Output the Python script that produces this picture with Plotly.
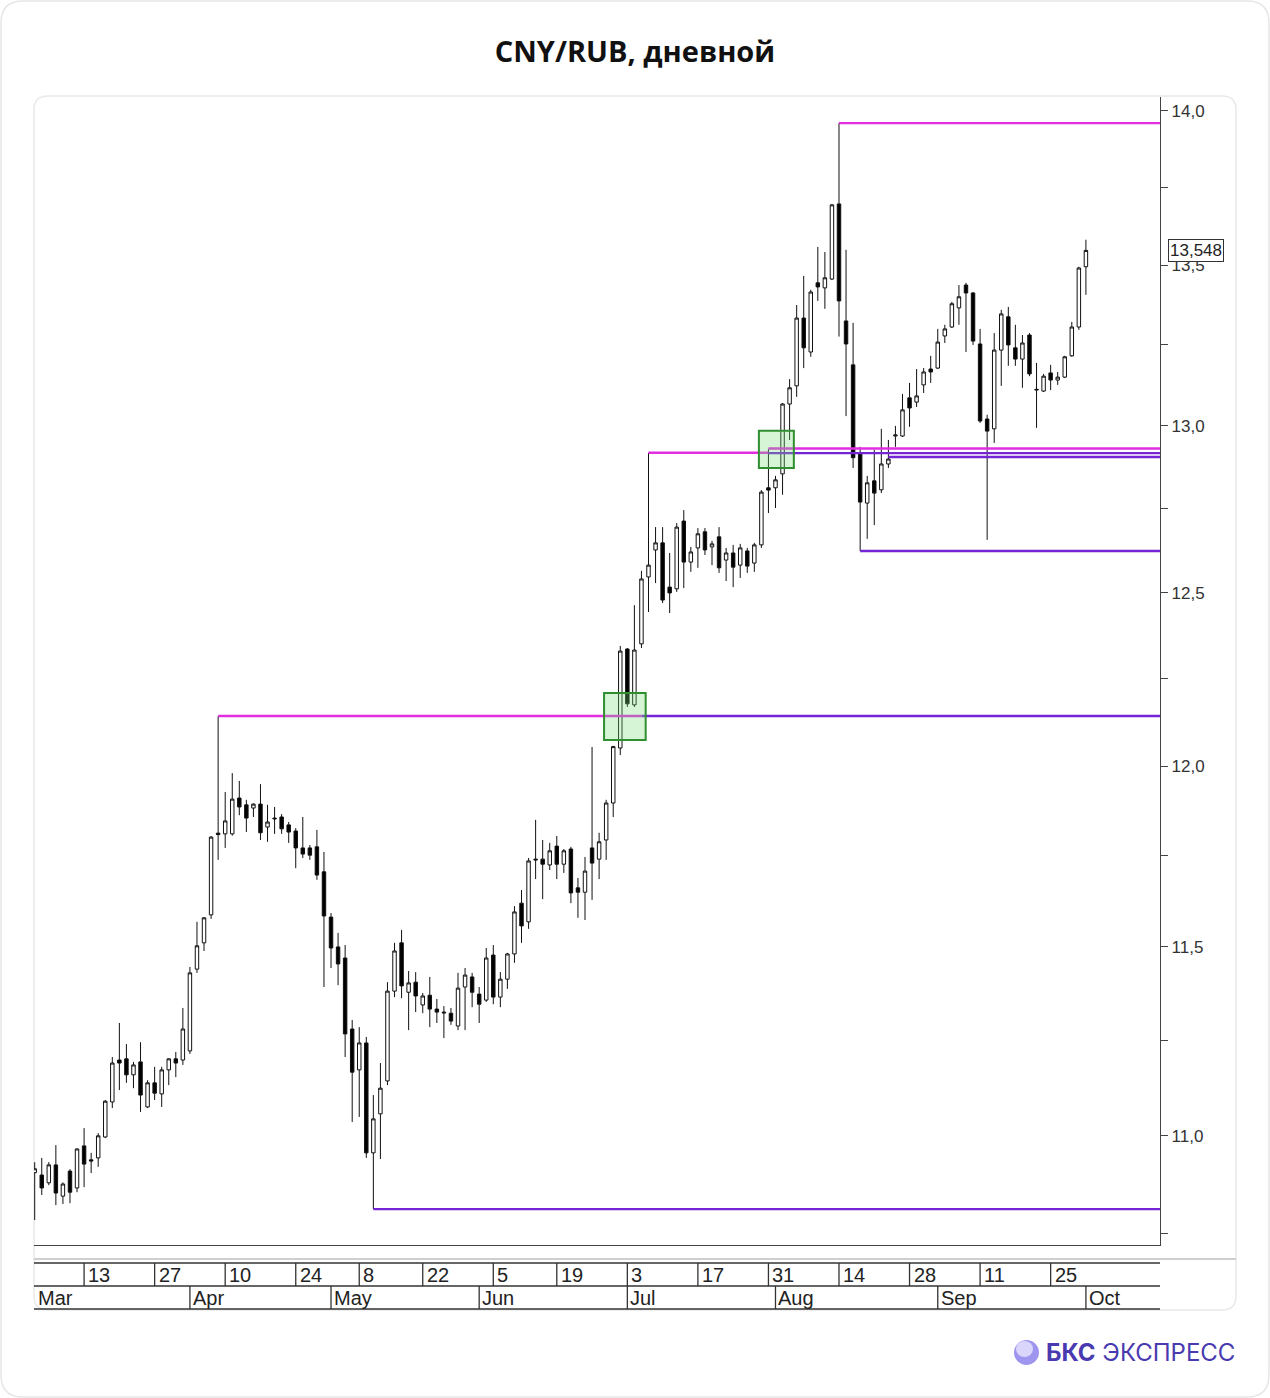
import math
import pandas as pd
import plotly.graph_objects as go

# ---------------- data ----------------
holidays = ["2023-03-08", "2023-05-01", "2023-05-09", "2023-06-12"]
dates = [d.strftime("%Y-%m-%d") for d in pd.bdate_range("2023-03-01", "2023-10-02")
         if d.strftime("%Y-%m-%d") not in holidays]

opens = [10.905, 10.899, 10.879, 10.925, 10.845, 10.909, 10.866, 10.974, 10.938, 10.943,
         10.997, 11.088, 11.198, 11.201, 11.159, 11.193, 11.075, 11.138, 11.109, 11.172,
         11.201, 11.198, 11.222, 11.440, 11.511, 11.587, 11.812, 11.810, 11.810, 11.910,
         11.891, 11.882, 11.893, 11.829, 11.854, 11.857, 11.835, 11.818, 11.771, 11.771,
         11.774, 11.705, 11.581, 11.500, 11.470, 11.280, 11.172, 11.243, 10.956, 11.057,
         11.143, 11.381, 11.511, 11.378, 11.405, 11.344, 11.370, 11.333, 11.325, 11.322,
         11.288, 11.392, 11.419, 11.373, 11.357, 11.478, 11.365, 11.413, 11.481, 11.619,
         11.568, 11.740, 11.740, 11.724, 11.776, 11.726, 11.768, 11.661, 11.649, 11.771,
         11.740, 11.793, 11.896, 12.051, 12.335, 12.174, 12.350, 12.546, 12.626, 12.647,
         12.516, 12.511, 12.712, 12.590, 12.632, 12.680, 12.635, 12.665, 12.596, 12.617,
         12.581, 12.623, 12.587, 12.641, 12.812, 12.812, 12.854, 13.067, 13.123, 13.334,
         13.228, 13.445, 13.429, 13.457, 13.697, 13.325, 13.188, 12.918, 12.766, 12.833,
         12.806, 12.884, 12.969, 12.969, 13.086, 13.073, 13.126, 13.175, 13.178, 13.278,
         13.306, 13.366, 13.438, 13.413, 13.253, 13.021, 12.991, 13.234, 13.338, 13.241,
         13.206, 13.281, 13.110, 13.107, 13.163, 13.141, 13.150, 13.216, 13.306, 13.496]
highs = [10.932, 10.943, 10.932, 10.976, 10.880, 10.914, 10.968, 11.020, 10.956, 11.007,
         11.093, 11.206, 11.296, 11.240, 11.193, 11.245, 11.145, 11.180, 11.180, 11.203,
         11.219, 11.336, 11.446, 11.568, 11.581, 11.804, 12.142, 11.927, 11.980, 11.958,
         11.905, 11.895, 11.949, 11.891, 11.885, 11.865, 11.843, 11.826, 11.857, 11.779,
         11.821, 11.760, 11.592, 11.538, 11.505, 11.304, 11.285, 11.259, 11.106, 11.190,
         11.405, 11.511, 11.546, 11.435, 11.432, 11.376, 11.419, 11.360, 11.341, 11.336,
         11.430, 11.443, 11.430, 11.392, 11.497, 11.505, 11.432, 11.484, 11.611, 11.655,
         11.743, 11.849, 11.793, 11.785, 11.804, 11.768, 11.774, 11.688, 11.746, 12.054,
         11.813, 11.905, 12.057, 12.344, 12.338, 12.463, 12.564, 12.918, 12.694, 12.694,
         12.617, 12.706, 12.745, 12.635, 12.691, 12.691, 12.653, 12.694, 12.632, 12.641,
         12.644, 12.632, 12.647, 12.805, 12.930, 12.848, 13.070, 13.144, 13.375, 13.467,
         13.423, 13.559, 13.543, 13.697, 13.960, 13.550, 13.319, 12.936, 12.848, 12.927,
         12.991, 12.957, 13.000, 13.098, 13.132, 13.175, 13.178, 13.216, 13.300, 13.313,
         13.385, 13.438, 13.445, 13.416, 13.300, 13.034, 13.287, 13.360, 13.369, 13.313,
         13.281, 13.287, 13.194, 13.160, 13.188, 13.166, 13.216, 13.322, 13.496, 13.582]
lows = [10.784, 10.848, 10.873, 10.822, 10.825, 10.827, 10.855, 10.868, 10.904, 10.920,
        10.994, 11.072, 11.119, 11.138, 11.124, 11.062, 11.072, 11.093, 11.075, 11.132,
        11.153, 11.185, 11.214, 11.430, 11.489, 11.576, 11.738, 11.771, 11.805, 11.862,
        11.815, 11.857, 11.793, 11.788, 11.810, 11.810, 11.785, 11.715, 11.743, 11.738,
        11.683, 11.392, 11.443, 11.397, 11.206, 11.036, 11.049, 10.943, 10.812, 10.940,
        11.132, 11.365, 11.362, 11.277, 11.325, 11.322, 11.285, 11.296, 11.256, 11.291,
        11.277, 11.277, 11.338, 11.296, 11.352, 11.346, 11.338, 11.387, 11.457, 11.511,
        11.549, 11.685, 11.630, 11.710, 11.685, 11.702, 11.619, 11.579, 11.573, 11.628,
        11.685, 11.738, 11.857, 12.031, 12.168, 12.168, 12.338, 12.443, 12.528, 12.469,
        12.440, 12.502, 12.513, 12.561, 12.573, 12.611, 12.581, 12.558, 12.534, 12.516,
        12.543, 12.558, 12.561, 12.632, 12.736, 12.751, 12.791, 12.957, 13.089, 13.178,
        13.213, 13.388, 13.363, 13.454, 13.276, 13.030, 12.872, 12.623, 12.659, 12.700,
        12.796, 12.872, 12.936, 12.966, 12.997, 13.058, 13.101, 13.132, 13.175, 13.256,
        13.303, 13.313, 13.228, 13.250, 13.009, 12.656, 12.948, 13.123, 13.185, 13.185,
        13.117, 13.153, 12.994, 13.104, 13.110, 13.126, 13.147, 13.213, 13.297, 13.407]
closes = [10.915, 10.866, 10.925, 10.853, 10.876, 10.855, 10.966, 10.927, 10.935, 11.000,
          11.090, 11.190, 11.190, 11.159, 11.185, 11.106, 11.138, 11.111, 11.172, 11.201,
          11.190, 11.280, 11.430, 11.503, 11.579, 11.801, 11.808, 11.846, 11.907, 11.885,
          11.854, 11.893, 11.813, 11.843, 11.852, 11.824, 11.815, 11.771, 11.754, 11.751,
          11.696, 11.584, 11.497, 11.454, 11.267, 11.166, 11.243, 10.956, 11.044, 11.124,
          11.381, 11.489, 11.395, 11.403, 11.368, 11.368, 11.333, 11.325, 11.323, 11.301,
          11.389, 11.424, 11.378, 11.346, 11.470, 11.365, 11.413, 11.481, 11.595, 11.557,
          11.735, 11.738, 11.726, 11.763, 11.726, 11.763, 11.647, 11.649, 11.707, 11.729,
          11.788, 11.896, 12.055, 12.329, 12.177, 12.332, 12.540, 12.581, 12.647, 12.478,
          12.499, 12.694, 12.590, 12.620, 12.674, 12.626, 12.644, 12.573, 12.617, 12.575,
          12.632, 12.578, 12.641, 12.799, 12.805, 12.836, 13.067, 13.117, 13.334, 13.241,
          13.416, 13.432, 13.461, 13.694, 13.388, 13.253, 12.903, 12.769, 12.827, 12.796,
          12.884, 12.899, 12.972, 13.049, 13.055, 13.092, 13.166, 13.166, 13.259, 13.300,
          13.379, 13.401, 13.413, 13.262, 13.015, 12.984, 13.234, 13.347, 13.250, 13.206,
          13.256, 13.160, 13.112, 13.153, 13.141, 13.150, 13.213, 13.306, 13.492, 13.548]

last_price = 13.548
last_label = "13,548"

# horizontal levels
levels_start = ["2023-08-14", "2023-07-06", "2023-07-31", "2023-07-31", "2023-08-23",
                "2023-04-07", "2023-07-05", "2023-08-17", "2023-05-11"]
levels_price = [13.960, 12.918, 12.931, 12.917, 12.905, 12.142, 12.142, 12.623, 10.812]
levels_end = ["2023-10-16 12:00", "2023-07-31", "2023-10-16 12:00", "2023-10-16 12:00",
              "2023-10-16 12:00", "2023-07-05", "2023-10-16 12:00", "2023-10-16 12:00",
              "2023-10-16 12:00"]
levels_kind = ["res", "res", "res", "sup", "sup", "res", "sup", "sup", "sup"]

# breakout zones (green boxes)
zone_x0 = ["2023-06-27 16:48", "2023-07-27 15:30"]
zone_x1 = ["2023-07-05 14:24", "2023-08-03 14:24"]
zone_y0 = [12.074, 12.872]
zone_y1 = [12.208, 12.985]

y_range = [10.721, 14.046]
y_tickvals = [11.0, 11.5, 12.0, 12.5, 13.0, 13.5, 14.0]
y_ticktext = ["11,0", "11,5", "12,0", "12,5", "13,0", "13,5", "14,0"]
y_minor = [10.75, 11.25, 11.75, 12.25, 12.75, 13.25, 13.75]

day_ticks = ["2023-03-13", "2023-03-27", "2023-04-10", "2023-04-24", "2023-05-08",
             "2023-05-22", "2023-06-05", "2023-06-19", "2023-07-03", "2023-07-17",
             "2023-07-31", "2023-08-14", "2023-08-28", "2023-09-11", "2023-09-25"]
day_labels = ["13", "27", "10", "24", "8", "22", "5", "19", "3", "17", "31", "14", "28", "11", "25"]
month_ticks = ["2023-03-01", "2023-04-03", "2023-05-02", "2023-06-01", "2023-07-03",
               "2023-08-01", "2023-09-01", "2023-10-02"]
month_labels = ["Mar", "Apr", "May", "Jun", "Jul", "Aug", "Sep", "Oct"]

x_range = ["2023-02-28 21:36", "2023-10-16 12:00"]

# ---------------- layout helpers ----------------
W, H = 1270, 1398
L, R, T, B = 34, 1160, 97, 1245


def X(px):
    return (px - L) / (R - L)


def Y(py):
    return (B - py) / (B - T)


def rrect(x0, y0, x1, y1, r):
    pts = [
        f"M {X(x0 + r)},{Y(y0)}", f"L {X(x1 - r)},{Y(y0)}",
        f"Q {X(x1)},{Y(y0)} {X(x1)},{Y(y0 + r)}", f"L {X(x1)},{Y(y1 - r)}",
        f"Q {X(x1)},{Y(y1)} {X(x1 - r)},{Y(y1)}", f"L {X(x0 + r)},{Y(y1)}",
        f"Q {X(x0)},{Y(y1)} {X(x0)},{Y(y1 - r)}", f"L {X(x0)},{Y(y0 + r)}",
        f"Q {X(x0)},{Y(y0)} {X(x0 + r)},{Y(y0)}", "Z"]
    return " ".join(pts)


MAGENTA = "#e02ee0"
PURPLE = "#7426d6"
AXIS = "#333333"
FONT_NARROW = "Liberation Sans Narrow, Arial Narrow, Liberation Sans, Arial, sans-serif"
FONT_SANS = "Liberation Sans, Arial, sans-serif"

fig = go.Figure()

fig.add_trace(go.Candlestick(
    x=dates, open=opens, high=highs, low=lows, close=closes,
    increasing=dict(line=dict(color="#111111", width=1), fillcolor="#ffffff"),
    decreasing=dict(line=dict(color="#111111", width=1), fillcolor="#000000"),
    whiskerwidth=0, showlegend=False, hoverinfo="skip"))

for s, e, p, k in zip(levels_start, levels_end, levels_price, levels_kind):
    fig.add_trace(go.Scatter(
        x=[s, e], y=[p, p], mode="lines",
        line=dict(color=MAGENTA if k == "res" else PURPLE, width=2.4),
        showlegend=False, hoverinfo="skip"))

shapes = []
shapes.append(dict(type="path", xref="paper", yref="paper", path=rrect(1, 1, W - 1, H - 1, 22),
                   line=dict(color="#e6e6e6", width=1.5), fillcolor="#ffffff", layer="below"))
shapes.append(dict(type="path", xref="paper", yref="paper", path=rrect(34, 96, 1236, 1310, 14),
                   line=dict(color="#e9e9e9", width=1.5), fillcolor="#ffffff", layer="below"))
shapes.append(dict(type="line", xref="paper", yref="paper", x0=X(34), x1=X(1236), y0=Y(1259), y1=Y(1259),
                   line=dict(color="#cfcfcf", width=2)))

for x0, x1, y0, y1 in zip(zone_x0, zone_x1, zone_y0, zone_y1):
    shapes.append(dict(type="rect", xref="x", yref="y", x0=x0, x1=x1, y0=y0, y1=y1,
                       line=dict(color="#2f8f2f", width=2), fillcolor="rgba(120,220,120,0.30)",
                       layer="above"))

ROW1_TOP, ROW_MID, ROW2_BOT = 1263, 1286, 1309
for py in (ROW1_TOP, ROW_MID, ROW2_BOT):
    shapes.append(dict(type="line", xref="paper", yref="paper", x0=0, x1=1, y0=Y(py), y1=Y(py),
                       line=dict(color=AXIS, width=1.3)))
for d in day_ticks:
    shapes.append(dict(type="line", xref="x", yref="paper", x0=d, x1=d, y0=Y(ROW1_TOP), y1=Y(ROW_MID),
                       line=dict(color=AXIS, width=1.3)))
for d in month_ticks[1:]:
    shapes.append(dict(type="line", xref="x", yref="paper", x0=d, x1=d, y0=Y(ROW_MID), y1=Y(ROW2_BOT),
                       line=dict(color=AXIS, width=1.3)))

shapes.append(dict(type="circle", xref="paper", yref="paper", x0=X(1014), x1=X(1039), y0=Y(1340), y1=Y(1365),
                   fillcolor="#9e96ee", line=dict(width=0)))
shapes.append(dict(type="circle", xref="paper", yref="paper", x0=X(1016), x1=X(1033), y0=Y(1341), y1=Y(1357),
                   fillcolor="#d9d5fb", line=dict(width=0)))

annotations = []
for d, t in zip(day_ticks, day_labels):
    annotations.append(dict(x=d, xref="x", y=Y((ROW1_TOP + ROW_MID) / 2), yref="paper", text=t,
                            showarrow=False, xanchor="left", yanchor="middle", xshift=2,
                            font=dict(family=FONT_NARROW, size=20, color="#222")))
for d, t in zip(month_ticks, month_labels):
    annotations.append(dict(x=d, xref="x", y=Y((ROW_MID + ROW2_BOT) / 2), yref="paper", text=t,
                            showarrow=False, xanchor="left", yanchor="middle", xshift=1,
                            font=dict(family=FONT_NARROW, size=20, color="#222")))
annotations.append(dict(x=X(1168), xref="paper", y=math.log10(last_price), yref="y", text=last_label,
                        showarrow=False, xanchor="left", yanchor="middle",
                        bordercolor=AXIS, borderwidth=1, borderpad=1, bgcolor="#ffffff",
                        font=dict(family=FONT_SANS, size=17, color="#222")))
annotations.append(dict(x=X(1044), xref="paper", y=Y(1352), yref="paper",
                        text="<b>БКС</b> ЭКСПРЕСС", showarrow=False, xanchor="left", yanchor="middle",
                        font=dict(family="Inter, Noto Sans, sans-serif", size=24, color="#4a3ab0")))

fig.update_layout(
    width=W, height=H,
    margin=dict(l=L, r=W - R, t=T, b=H - B),
    paper_bgcolor="#ffffff", plot_bgcolor="rgba(0,0,0,0)",
    title=dict(text="<b>CNY/RUB, дневной</b>", x=0.5, xanchor="center", xref="container",
               y=1 - 52 / H, yref="container", yanchor="middle",
               font=dict(family="Open Sans, Noto Sans, sans-serif", size=29, color="#111")),
    shapes=shapes, annotations=annotations,
    xaxis=dict(type="date", range=x_range, rangeslider=dict(visible=False),
               rangebreaks=[dict(bounds=["sat", "mon"]), dict(values=holidays)],
               showticklabels=False, ticks="", showgrid=False, zeroline=False,
               showline=True, linecolor="#444", linewidth=1.3, mirror=False),
    yaxis=dict(type="log", side="right", range=[math.log10(v) for v in y_range],
               tickmode="array", tickvals=y_tickvals, ticktext=y_ticktext,
               ticks="outside", ticklen=7, tickcolor="#444", tickwidth=1,
               minor=dict(tickmode="array", tickvals=y_minor, ticks="outside", ticklen=7,
                          tickcolor="#444", tickwidth=1),
               tickfont=dict(family=FONT_SANS, size=17, color="#333"),
               showgrid=False, zeroline=False, showline=True, linecolor="#444", linewidth=1.3),
    hovermode=False,
)

fig.write_html("out.html", config={"displayModeBar": False},
               post_script="document.body.style.margin='0px';")
